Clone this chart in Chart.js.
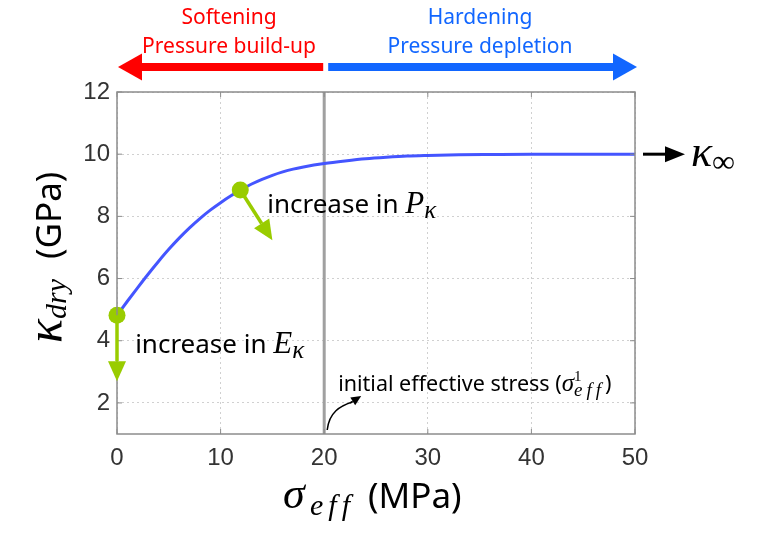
<!DOCTYPE html>
<html>
<head>
<meta charset="utf-8">
<script src="https://cdn.jsdelivr.net/npm/chart.js@4.4.1/dist/chart.umd.min.js"></script>
<style>
  html, body { margin: 0; padding: 0; background: #fff; }
  #wrap { width: 758px; height: 537px; }
</style>
</head>
<body>
<div id="wrap"><canvas id="grafica" width="758" height="537"></canvas></div>
<script>
// datos
const esfuerzo = [0, 1, 2, 3, 4, 5, 6, 7, 8, 9, 10, 11, 12, 13, 14, 15, 16, 17, 18, 19, 20, 22, 24, 26, 28, 30, 33, 36, 40, 50];
const kappaDry = [4.82, 5.27, 5.71, 6.14, 6.55, 6.94, 7.3, 7.63, 7.93, 8.2, 8.44, 8.66, 8.86, 9.04, 9.19, 9.32, 9.43, 9.52, 9.59, 9.65, 9.7, 9.78, 9.85, 9.9, 9.94, 9.96, 9.98, 9.99, 10, 10];
const marcadoresX = [0, 11.9];
const marcadoresY = [4.82, 8.85];
const flechasX = [0, 15.0];
const flechasY = [2.7, 7.23];
const xTicks = [0, 10, 20, 30, 40, 50];
const yTicks = [2, 4, 6, 8, 10, 12];
const esfuerzoInicial = 20;
const kappaInf = 10;

const VERDE = '#99cc00';
const SANS = '"Noto Sans", "Open Sans", sans-serif';
const SERIF = '"Liberation Serif", "DejaVu Serif", serif';

function flecha(ctx, x1, y1, x2, y2, color, grosor, largo, ancho) {
  const ang = Math.atan2(y2 - y1, x2 - x1);
  const bx = x2 - largo * Math.cos(ang), by = y2 - largo * Math.sin(ang);
  ctx.save();
  ctx.strokeStyle = color;
  ctx.fillStyle = color;
  ctx.lineWidth = grosor;
  ctx.beginPath();
  ctx.moveTo(x1, y1);
  ctx.lineTo(bx, by);
  ctx.stroke();
  ctx.beginPath();
  ctx.moveTo(x2, y2);
  ctx.lineTo(bx + ancho / 2 * Math.sin(ang), by - ancho / 2 * Math.cos(ang));
  ctx.lineTo(bx - ancho / 2 * Math.sin(ang), by + ancho / 2 * Math.cos(ang));
  ctx.closePath();
  ctx.fill();
  ctx.restore();
}

// dibuja trozos de texto seguidos; x absoluta y espaciado opcionales por trozo
function textoRico(ctx, x, y, segs) {
  ctx.textAlign = 'left';
  ctx.textBaseline = 'alphabetic';
  let marca = x;
  for (const s of segs) {
    if (s.x !== undefined) x = s.x;
    if (s.volver) x = marca;
    ctx.font = s.f;
    ctx.fillStyle = s.c || '#000';
    ctx.letterSpacing = (s.ls || 0) + 'px';
    if (s.marcar) marca = x;
    ctx.fillText(s.t, x, y + (s.dy || 0));
    x += ctx.measureText(s.t).width;
  }
  ctx.letterSpacing = '0px';
  return x;
}

const decoracion = {
  id: 'decoracion',
  afterDatasetsDraw(chart) {
    const ctx = chart.ctx;
    const xs = chart.scales.x, ys = chart.scales.y;
    const a = chart.chartArea;

    // marco y marcas interiores
    ctx.save();
    ctx.strokeStyle = '#8c8c8c';
    ctx.lineWidth = 1.5;
    ctx.strokeRect(a.left, a.top, a.right - a.left, a.bottom - a.top);
    ctx.lineWidth = 1;
    ctx.beginPath();
    xTicks.forEach(v => {
      const px = xs.getPixelForValue(v);
      ctx.moveTo(px, a.bottom); ctx.lineTo(px, a.bottom - 5);
      ctx.moveTo(px, a.top); ctx.lineTo(px, a.top + 5);
    });
    yTicks.forEach(v => {
      const py = ys.getPixelForValue(v);
      ctx.moveTo(a.left, py); ctx.lineTo(a.left + 5, py);
      ctx.moveTo(a.right, py); ctx.lineTo(a.right - 5, py);
    });
    ctx.stroke();
    ctx.restore();

    // flechas verdes desde los marcadores
    marcadoresX.forEach((mx, i) => {
      flecha(ctx, xs.getPixelForValue(mx), ys.getPixelForValue(marcadoresY[i]),
        xs.getPixelForValue(flechasX[i]), ys.getPixelForValue(flechasY[i]), VERDE, 3.5, 20, 18);
    });

    // textos dentro del gráfico
    textoRico(ctx, xs.getPixelForValue(1.75), ys.getPixelForValue(3.62), [
      { t: 'increase in ', f: '26px ' + SANS },
      { t: 'E', f: 'italic 31px ' + SERIF },
      { t: 'κ', f: 'italic 25px ' + SERIF, dy: 5 }
    ]);
    textoRico(ctx, xs.getPixelForValue(14.5), ys.getPixelForValue(8.12), [
      { t: 'increase in ', f: '26px ' + SANS },
      { t: 'P', f: 'italic 31px ' + SERIF },
      { t: 'κ', f: 'italic 25px ' + SERIF, dy: 5 }
    ]);
    const x20 = xs.getPixelForValue(esfuerzoInicial);
    textoRico(ctx, x20 + 14, 391, [
      { t: 'initial effective stress (', f: '21.5px ' + SANS },
      { t: 'σ', f: 'italic 25px ' + SERIF },
      { t: '1', f: '15px ' + SERIF, dy: -10, marcar: true },
      { t: 'eff', f: 'italic 19px ' + SERIF, dy: 5, volver: true, ls: 4 },
      { t: ')', f: '21.5px ' + SANS }
    ]);

    // flecha curva hacia el texto
    ctx.save();
    ctx.strokeStyle = '#000';
    ctx.lineWidth = 1.5;
    ctx.beginPath();
    ctx.moveTo(x20 + 3, a.bottom - 4);
    ctx.bezierCurveTo(x20 + 5, a.bottom - 22, x20 + 16, a.bottom - 28, x20 + 28, a.bottom - 32);
    ctx.stroke();
    ctx.restore();
    flecha(ctx, x20 + 26, a.bottom - 31, x20 + 37, a.bottom - 38, '#000', 1.5, 10, 9);

    // flechas superiores
    const yF = 67;
    flecha(ctx, x20 - 1, yF, xs.getPixelForValue(0) + 1, yF, '#ff0000', 8, 24, 27);
    flecha(ctx, x20 + 4, yF, xs.getPixelForValue(50) + 2, yF, '#1166ff', 8, 24, 27);
    ctx.save();
    ctx.textAlign = 'center';
    ctx.textBaseline = 'middle';
    ctx.font = '21px ' + SANS;
    ctx.fillStyle = '#ff0000';
    ctx.fillText('Softening', 229, 18);
    ctx.fillText('Pressure build-up', 229, 47);
    ctx.fillStyle = '#1166ff';
    ctx.fillText('Hardening', 480, 18);
    ctx.fillText('Pressure depletion', 480, 47);
    ctx.restore();

    // asíntota a la derecha
    const yInf = ys.getPixelForValue(kappaInf);
    flecha(ctx, a.right + 8, yInf, a.right + 50, yInf, '#000', 3, 20, 16);
    textoRico(ctx, a.right + 56, yInf + 12, [
      { t: 'κ', f: 'italic 44px ' + SERIF },
      { t: '∞', f: '32px ' + SERIF, dy: 6 }
    ]);

    // títulos de ejes
    ctx.save();
    ctx.translate(61, 343);
    ctx.rotate(-Math.PI / 2);
    textoRico(ctx, 0, 0, [
      { t: 'κ', f: 'italic 50px ' + SERIF },
      { t: 'dry', f: 'italic 30px ' + SERIF, dy: 5 },
      { t: '(GPa)', f: '35px ' + SANS, x: 84 }
    ]);
    ctx.restore();
    textoRico(ctx, 283, 508, [
      { t: 'σ', f: 'italic 44px ' + SERIF },
      { t: 'eff', f: 'italic 30px ' + SERIF, dy: 7, x: 310, ls: 5 },
      { t: '(MPa)', f: '35px ' + SANS, x: 368 }
    ]);
  }
};

const puntosCurva = esfuerzo.map((x, i) => ({ x, y: kappaDry[i] }));
const puntosMarca = marcadoresX.map((x, i) => ({ x, y: marcadoresY[i] }));

new Chart(document.getElementById('grafica'), {
  type: 'line',
  data: {
    datasets: [
      {
        data: puntosMarca,
        showLine: false,
        pointRadius: 8.5,
        pointBackgroundColor: VERDE,
        pointBorderWidth: 0,
        clip: false
      },
      {
        data: puntosCurva,
        borderColor: '#4455ff',
        borderWidth: 3,
        pointRadius: 0,
        cubicInterpolationMode: 'monotone',
        fill: false
      },
      {
        data: [{ x: esfuerzoInicial, y: 1 }, { x: esfuerzoInicial, y: 12 }],
        borderColor: '#a0a0a0',
        borderWidth: 3,
        pointRadius: 0
      }
    ]
  },
  options: {
    responsive: false,
    animation: false,
    layout: { padding: { left: 0, right: 123, top: 92, bottom: 0 } },
    plugins: { legend: { display: false }, tooltip: { enabled: false } },
    scales: {
      x: {
        type: 'linear',
        min: 0,
        max: 50,
        afterBuildTicks: s => { s.ticks = xTicks.map(v => ({ value: v })); },
        afterFit: s => { s.height = 103; },
        ticks: { font: { family: '"Liberation Sans", Arial, sans-serif', size: 24 }, color: '#333', padding: 10, maxRotation: 0 },
        grid: { color: '#d0d0d0', drawTicks: false, lineWidth: 1 },
        border: { display: false, dash: [2, 3] }
      },
      y: {
        min: 1,
        max: 12,
        afterBuildTicks: s => { s.ticks = yTicks.map(v => ({ value: v })); },
        afterFit: s => { s.width = 117; },
        ticks: { font: { family: '"Liberation Sans", Arial, sans-serif', size: 24 }, color: '#333', padding: 7 },
        grid: { color: '#d0d0d0', drawTicks: false, lineWidth: 1 },
        border: { display: false, dash: [2, 3] }
      }
    }
  },
  plugins: [decoracion]
});
</script>
</body>
</html>
